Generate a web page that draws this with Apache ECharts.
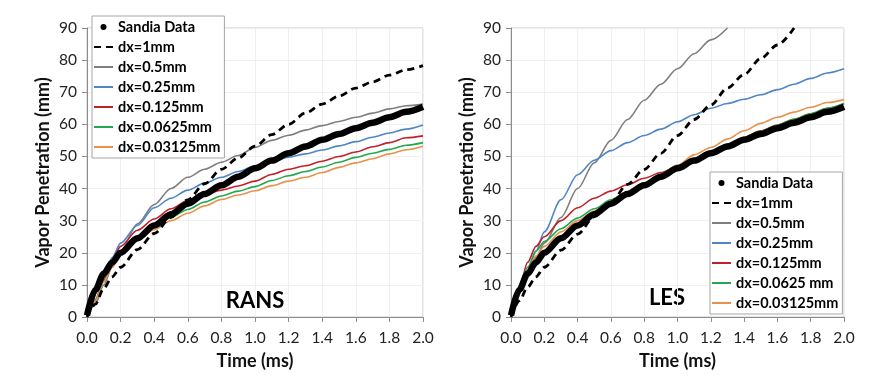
<!DOCTYPE html>
<html>
<head>
<meta charset="utf-8">
<script src="https://cdn.jsdelivr.net/npm/echarts@6/dist/echarts.min.js"></script>
<style>
  html, body { margin: 0; padding: 0; background: #fff; }
  #main { width: 892px; height: 375px; }
</style>
</head>
<body>
<div id="main"></div>
<script>
// time grid (ms)
var times = [0, 0.05, 0.1, 0.15, 0.2, 0.3, 0.4, 0.5, 0.6, 0.7, 0.8, 0.9, 1.0,
    1.1, 1.2, 1.3, 1.4, 1.5, 1.6, 1.7, 1.8, 1.9, 2.0];
var xTicks = ['0.0', '0.2', '0.4', '0.6', '0.8', '1.0', '1.2', '1.4', '1.6', '1.8', '2.0'];

// measured
var sandia = [0.5, 8.5, 13.5, 17, 20, 24.5, 28.5, 32, 35.3, 38.3, 41, 43.7, 46.3,
    48.7, 51, 53.1, 55.2, 57, 58.8, 60.5, 62.2, 63.9, 65.5];

// RANS
var ransDx1 = [0, 4, 9, 12.5, 15.5, 21, 26, 31, 36.5, 41.5, 46, 49.5, 53.2,
    56.8, 60, 63.5, 66.3, 68.8, 71.3, 73.2, 75.3, 77, 78.3];
var ransDx05 = [0, 4, 10, 15.5, 20.5, 29, 35, 40, 43.5, 46, 48.2, 50.3, 52.8,
    55, 56.6, 58.2, 59.6, 60.9, 62.2, 63.5, 64.8, 65.8, 66.3];
var ransDx025 = [0, 5.5, 12.5, 18.5, 23, 28.5, 34, 37, 39.5, 41.7, 43.5, 45.3, 47,
    48.5, 49.8, 50.8, 52, 53.3, 54.6, 56, 57.3, 58.5, 59.8];
var ransDx0125 = [0, 5, 11.5, 17.5, 22, 27, 30.5, 33.7, 36.3, 38, 39.5, 40.8, 42.3,
    44.4, 46, 47.1, 48.5, 50, 51.4, 53, 54.3, 55.8, 56.4];
var ransDx00625 = [0, 5, 11, 16, 20, 24.5, 28, 31, 33.5, 35.8, 37.7, 39.2, 40.6,
    42.5, 44, 45.3, 46.7, 48.2, 49.7, 51, 52.2, 53.5, 54.3];
var ransDx003125 = [0, 5, 11, 15.5, 19.5, 23.7, 27.2, 30, 32.3, 34.6, 36.6, 38, 39.3,
    40.9, 42.3, 43.5, 45, 46.6, 48, 49.3, 50.8, 52.1, 53.2];

// LES (dx=1mm and dx=0.5mm leave the plot at 90 mm)
var lesDx1 = [0, 5, 9.3, 12.5, 15.5, 20.8, 25.8, 31.2, 35.8, 41.3, 46, 51, 56.5,
    61.5, 66, 71.3, 75.5, 80.5, 84.7, 90];
var lesDx05 = [0, 7.5, 13.5, 18.5, 23, 31, 40, 48, 55, 61.5, 67.5, 72.5, 77.3,
    82, 86.3, 90];
var lesDx025 = [0, 7.5, 14, 20.5, 26.5, 36.5, 44.3, 48.8, 51.8, 54.3, 56.5, 58.5, 60.8,
    63, 65, 66.5, 67.8, 69.2, 70.8, 72.5, 74.3, 76, 77.3];
var lesDx0125 = [0, 9, 17, 22, 25, 30, 34, 37, 39.2, 41.2, 43.2, 45, 46.8,
    49, 51.5, 53.8, 56, 58, 59.8, 61.6, 63.3, 65, 66.5];
var lesDx00625 = [0, 9, 15.5, 20.5, 23.5, 27.5, 30.8, 33.7, 36.5, 39, 41.5, 44, 46.5,
    49, 51.5, 53.7, 55.8, 57.8, 59.7, 61.6, 63.3, 65, 66.5];
var lesDx003125 = [0, 8.5, 14.5, 19, 22, 26.5, 30, 33, 36, 39, 41.8, 44.5, 47.3,
    50.5, 52.8, 55.4, 58, 60.3, 62.2, 63.8, 65.3, 66.8, 67.7];

var FONT = 'Lato';

function pairs(vals) {
    return vals.map(function (v, i) { return [times[i], v]; });
}

function xAxis(idx) {
    return {
        type: 'value', gridIndex: idx, min: 0, max: 2, interval: 0.2,
        name: 'Time (ms)', nameLocation: 'middle', nameGap: 35,
        nameTextStyle: { fontFamily: FONT, fontWeight: 'bold', fontSize: 18, color: '#111' },
        axisLine: { lineStyle: { color: '#8c8c8c' } },
        axisTick: { length: 5, lineStyle: { color: '#8c8c8c' } },
        axisLabel: {
            margin: 13, fontFamily: FONT, fontSize: 15.5, color: '#222',
            formatter: function (v) { return xTicks[Math.round(v / 0.2)]; }
        },
        splitLine: { show: true, lineStyle: { color: '#f0f0f0' } }
    };
}

function yAxis(idx) {
    return {
        type: 'value', gridIndex: idx, min: 0, max: 90, interval: 10,
        name: 'Vapor Penetration (mm)', nameLocation: 'middle', nameGap: 35,
        nameTextStyle: { fontFamily: FONT, fontWeight: 'bold', fontSize: 18, color: '#111' },
        axisLine: { show: true, lineStyle: { color: '#8c8c8c' } },
        axisTick: { show: true, length: 5, lineStyle: { color: '#8c8c8c' } },
        axisLabel: { margin: 10, fontFamily: FONT, fontSize: 15.5, color: '#222' },
        splitLine: { show: true, lineStyle: { color: '#f0f0f0' } }
    };
}

function line(name, vals, color, idx, extra) {
    var s = {
        name: name, type: 'line', xAxisIndex: idx, yAxisIndex: idx,
        data: pairs(vals), symbol: 'none', smooth: 0.3, smoothMonotone: 'x',
        lineStyle: { color: color, width: 1.6 }, itemStyle: { color: color }, z: 2
    };
    return Object.assign(s, extra || {});
}

function sandiaSeries(idx) {
    return line('Sandia Data', sandia, '#000', idx, {
        lineStyle: { color: '#000', width: 6.5 }, z: 4
    });
}

function dashed(vals, idx) {
    return line('dx=1mm', vals, '#000', idx, {
        lineStyle: { color: '#000', width: 2.8, type: [7, 5] }, z: 5
    });
}

var legendText = { fontFamily: FONT, fontWeight: 'bold', fontSize: 14.5, color: '#000', lineHeight: 16 };

function legend(left, top, names) {
    return {
        orient: 'vertical', left: left, top: top,
        padding: [3, 4, 3, 1], itemGap: 4, itemWidth: 19, itemHeight: 6,
        backgroundColor: '#fff', borderColor: '#a6a6a6', borderWidth: 1,
        textStyle: legendText, selectedMode: false,
        // hide the marker that line series put in the middle of their icon
        itemStyle: { opacity: 0 },
        data: [{ name: 'Sandia Data', icon: 'circle', itemStyle: { opacity: 1, color: '#000' } }].concat(names)
    };
}

var chart = echarts.init(document.getElementById('main'));
chart.setOption({
    backgroundColor: '#fff',
    animation: false,
    grid: [
        { left: 87, top: 28, width: 336, height: 294, show: true, borderColor: '#c8c8c8', backgroundColor: 'transparent' },
        { left: 511, top: 28, width: 333, height: 289, show: true, borderColor: '#c8c8c8', backgroundColor: 'transparent' }
    ],
    xAxis: [xAxis(0), xAxis(1)],
    yAxis: [yAxis(0), yAxis(1)],
    legend: [
        legend(92, 16, ['dx=1mm', 'dx=0.5mm', 'dx=0.25mm', 'dx=0.125mm', 'dx=0.0625mm', 'dx=0.03125mm']),
        legend(710, 172, ['dx=1mm', 'dx=0.5mm', 'dx=0.25mm', 'dx=0.125mm', 'dx=0.0625 mm', 'dx=0.03125mm'])
    ],
    graphic: [
        { type: 'text', x: 255, y: 301, style: { text: 'RANS', fontFamily: FONT, fontWeight: 'bold', fontSize: 22, fill: '#000', align: 'center', verticalAlign: 'middle' } },
        { type: 'text', x: 667, y: 298, style: { text: 'LES', fontFamily: FONT, fontWeight: 'bold', fontSize: 22, fill: '#000', align: 'center', verticalAlign: 'middle' } }
    ],
    series: [
        sandiaSeries(0),
        dashed(ransDx1, 0),
        line('dx=0.5mm', ransDx05, '#7f7f7f', 0),
        line('dx=0.25mm', ransDx025, '#4f86c6', 0),
        line('dx=0.125mm', ransDx0125, '#c0202a', 0),
        line('dx=0.0625mm', ransDx00625, '#22a84f', 0),
        line('dx=0.03125mm', ransDx003125, '#e8914a', 0),

        sandiaSeries(1),
        dashed(lesDx1, 1),
        line('dx=0.5mm', lesDx05, '#7f7f7f', 1),
        line('dx=0.25mm', lesDx025, '#4f86c6', 1),
        line('dx=0.125mm', lesDx0125, '#c0202a', 1),
        line('dx=0.0625 mm', lesDx00625, '#22a84f', 1),
        line('dx=0.03125mm', lesDx003125, '#e8914a', 1)
    ]
});
</script>
</body>
</html>
